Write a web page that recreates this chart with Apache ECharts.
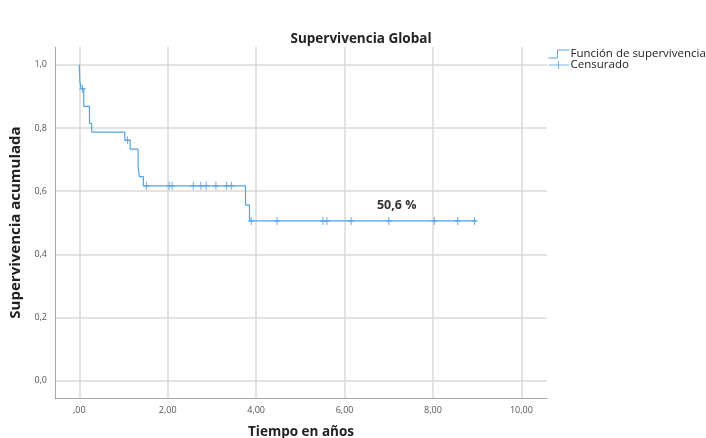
<!DOCTYPE html>
<html>
<head>
<meta charset="utf-8">
<script src="https://cdn.jsdelivr.net/npm/echarts@6/dist/echarts.min.js"></script>
<style>
html,body{margin:0;padding:0;background:#fff;}
#chart{width:706px;height:438px;}
</style>
</head>
<body>
<div id="chart"></div>
<script>
// Kaplan-Meier step points (time in years, cumulative survival)
const eventTimes = [0, 0.01, 0.04, 0.10, 0.23, 0.28, 1.03, 1.15, 1.33, 1.36, 1.45, 3.76, 3.85, 8.98];
const eventSurv  = [1.0, 0.950, 0.924, 0.868, 0.814, 0.787, 0.761, 0.733, 0.677, 0.646, 0.617, 0.556, 0.506, 0.506];
// Censored observations
const censorTimes = [0.07, 1.09, 1.52, 2.03, 2.10, 2.58, 2.75, 2.87, 3.09, 3.33, 3.44, 3.89, 4.47, 5.51, 5.60, 6.15, 7.00, 8.03, 8.56, 8.94];
const censorSurv  = [0.924, 0.761, 0.617, 0.617, 0.617, 0.617, 0.617, 0.617, 0.617, 0.617, 0.617, 0.506, 0.506, 0.506, 0.506, 0.506, 0.506, 0.506, 0.506, 0.506];
// Axis ticks
const xTicks = [0, 2, 4, 6, 8, 10];
const yTicks = [0, 0.2, 0.4, 0.6, 0.8, 1.0];
const annotationText = '50,6 %';
const annotationPos = [7.18, 0.556];

const blue = '#52a4e8';
const font = '"Open Sans", "Noto Sans", sans-serif';

const chart = echarts.init(document.getElementById('chart'), null, {renderer: 'canvas', width: 706, height: 438});
chart.setOption({
  animation: false,
  backgroundColor: '#fff',
  title: {
    text: 'Supervivencia Global',
    left: 356, top: 27, textAlign: 'center',
    textStyle: {fontFamily: font, fontSize: 13.5, fontWeight: 'bold', color: '#222'}
  },
  legend: {
    orient: 'vertical', left: 543, top: 43, itemWidth: 21, itemHeight: 8, itemGap: -1,
    textStyle: {fontFamily: font, fontSize: 11.5, color: '#222', padding: [0,0,0,-4]},
    data: [
      {name: 'Función de supervivencia', icon: 'path://M0,8L9,8L9,0L21,0',
       itemStyle: {color: 'transparent', borderColor: blue, borderWidth: 1}},
      {name: 'Censurado', icon: 'path://M10,0L10,8M0,4L21,4',
       itemStyle: {color: 'transparent', borderColor: blue, borderWidth: 1}}
    ]
  },
  grid: {left: 55, top: 47, right: 159, bottom: 40, containLabel: false, outerBoundsMode: 'none'},
  xAxis: {
    type: 'value', min: -0.55, max: 10.58,
    name: 'Tiempo en años', nameLocation: 'middle', nameGap: 27,
    nameTextStyle: {fontFamily: font, fontSize: 13.5, fontWeight: 'bold', color: '#222'},
    axisLine: {show: true, onZero: false, lineStyle: {color: '#a8a8a8', width: 1}},
    axisTick: {show: false, customValues: xTicks},
    axisLabel: {customValues: xTicks, margin: 8, fontFamily: font, fontSize: 9, color: '#555',
      formatter: v => v === 0 ? ',00' : v.toFixed(2).replace('.', ',')},
    splitLine: {show: true, lineStyle: {color: '#dadada', width: 1.5}}
  },
  yAxis: {
    type: 'value', min: -0.054, max: 1.056,
    name: 'Supervivencia acumulada', nameLocation: 'middle', nameGap: 28,
    nameTextStyle: {fontFamily: font, fontSize: 15, fontWeight: 'bold', color: '#222'},
    axisLine: {show: true, onZero: false, lineStyle: {color: '#a8a8a8', width: 1}},
    axisTick: {show: false, customValues: yTicks},
    axisLabel: {customValues: yTicks, margin: 8, fontFamily: font, fontSize: 9, color: '#555',
      formatter: v => v.toFixed(1).replace('.', ',')},
    splitLine: {show: true, lineStyle: {color: '#dadada', width: 1.5}}
  },
  series: [
    {
      name: 'Función de supervivencia', type: 'line', step: 'end',
      data: eventTimes.map((t, i) => [t, eventSurv[i]]),
      showSymbol: false, symbol: 'none',
      lineStyle: {color: blue, width: 1.2},
      itemStyle: {color: blue},
      markPoint: {
        symbol: 'circle', symbolSize: 0,
        data: [{coord: annotationPos, value: annotationText,
          label: {show: true, position: 'inside', formatter: annotationText,
            fontFamily: font, fontSize: 12.5, fontWeight: 'bold', color: '#333'}}]
      }
    },
    {
      name: 'Censurado', type: 'scatter',
      data: censorTimes.map((t, i) => [t, censorSurv[i]]),
      symbol: 'path://M5,0L5,10M0,5L10,5', symbolSize: [6, 8],
      itemStyle: {color: 'transparent', borderColor: blue, borderWidth: 1.3}
    }
  ]
});
</script>
</body>
</html>
